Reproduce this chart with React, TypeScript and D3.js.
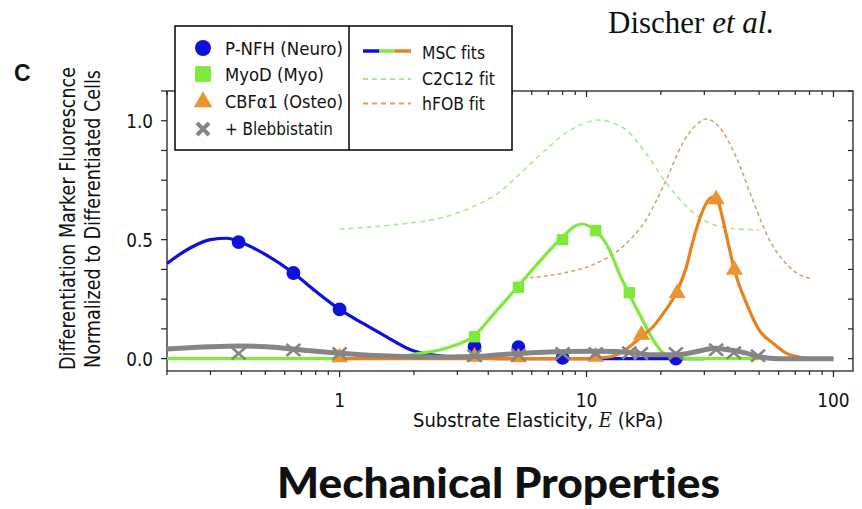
import React from 'react';
import * as d3 from 'd3';

type P = [number, number];

// ---- data (E in kPa, normalized fluorescence) ----
const neuroFit: P[] = [
  [0.2, 0.40], [0.247, 0.464], [0.3, 0.50], [0.35, 0.506], [0.4, 0.488], [0.5, 0.438],
  [0.65, 0.36], [0.8, 0.283], [1.0, 0.207], [1.24, 0.149], [1.5, 0.10], [2.0, 0.032],
  [2.8, 0.008], [3.5, 0.002], [4.5, 0], [30, 0],
];
const myoFit: P[] = [
  [0.2, 0], [1.0, 0], [1.5, 0.002], [1.75, 0.008], [2.04, 0.02], [2.54, 0.036], [2.97, 0.058],
  [3.47, 0.092], [4.18, 0.184], [5.27, 0.303], [6.45, 0.408], [7.9, 0.506], [9.08, 0.56],
  [9.6, 0.566], [10.3, 0.556], [10.9, 0.538], [12.4, 0.457], [13.6, 0.355], [14.9, 0.27], [16.6, 0.176],
  [18.6, 0.079], [21, 0.015], [24, 0.002], [28, 0], [50, 0],
];
const osteoFit: P[] = [
  [0.95, 0], [10, 0], [12.5, 0.008], [14.5, 0.04], [16.4, 0.086], [18.6, 0.134], [20.3, 0.185],
  [23.3, 0.285], [25.4, 0.387], [26.9, 0.49], [29.5, 0.62], [31.5, 0.672], [33, 0.68], [34.1, 0.66],
  [36.7, 0.527], [39.7, 0.373], [44.4, 0.233], [50, 0.12], [56.9, 0.065], [64.3, 0.023],
  [73.1, 0.006], [82, 0], [100, 0],
];
const blebFit: P[] = [
  [0.2, 0.04], [0.3, 0.05], [0.39, 0.053], [0.5, 0.05], [0.65, 0.04], [0.8, 0.031], [1.0, 0.023],
  [1.4, 0.013], [2.0, 0.008], [2.8, 0.007], [3.5, 0.009], [4.44, 0.016], [6, 0.025], [8.3, 0.03],
  [11, 0.031], [13.2, 0.03], [16, 0.022], [18, 0.016], [23, 0.016], [28, 0.03], [33, 0.044],
  [38, 0.036], [44.4, 0.023], [50, 0.008], [55, 0.002], [60, 0], [100, 0],
];
const c2c12Fit: P[] = [
  [1.0, 0.544], [1.5, 0.558], [2.0, 0.572], [2.54, 0.59], [3.47, 0.639], [4.44, 0.70], [5.04, 0.75],
  [6.06, 0.828], [6.87, 0.88], [8, 0.94], [9.36, 0.98], [11.3, 1.003], [12.8, 0.99], [14.5, 0.961],
  [17.4, 0.863], [21.1, 0.737], [25.4, 0.639], [30.6, 0.576], [38, 0.548], [50, 0.541],
];
const hfobFit: P[] = [
  [5.52, 0.338], [8, 0.359], [10.9, 0.40], [14, 0.47], [17.4, 0.583], [21, 0.75], [24.5, 0.905],
  [27.8, 0.982], [30.6, 1.007], [34.4, 0.975], [40.3, 0.849], [47.1, 0.667], [55, 0.499],
  [64.3, 0.40], [73, 0.352], [80, 0.338],
];
const neuroPts: P[] = [[0.39, 0.49], [0.65, 0.36], [1.0, 0.207], [3.52, 0.05], [5.3, 0.048], [8.0, 0.003], [23, 0.0]];
const myoPts: P[] = [[3.52, 0.092], [5.3, 0.30], [8.0, 0.50], [10.9, 0.538], [14.9, 0.277]];
const osteoPts: P[] = [[1.0, 0.005], [3.52, 0.008], [5.3, 0.005], [10.9, 0.008], [16.7, 0.1], [23.3, 0.275], [33.5, 0.67], [39.7, 0.373]];
const blebPts: P[] = [
  [0.39, 0.022], [0.65, 0.036], [1.0, 0.022], [3.52, 0.012], [5.3, 0.015], [8.0, 0.022], [10.9, 0.022],
  [14.9, 0.025], [16.6, 0.022], [23, 0.022], [33.5, 0.037], [39.5, 0.025], [49.5, 0.012],
];

const xMajor = [1, 10, 100];
const xMajorLabels = ['1', '10', '100'];
const yLabelValues = [0, 0.5, 1.0];
const yLabels = ['0.0', '0.5', '1.0'];
const yTickValues = d3.range(0, 1.126, 0.125);

const leftLegend = ['P-NFH (Neuro)', 'MyoD (Myo)', 'CBF\u03b11 (Osteo)', '+ Blebbistatin'];
const rightLegend = ['MSC fits', 'C2C12 fit', 'hFOB fit'];

// ---- styles ----
const BLUE = '#1010dc';
const GREEN = '#7fea3c';
const ORANGE = '#e8821e';
const ORANGE_M = '#ea9330';
const GRAY = '#858585';
const DGREEN = '#a8ea8c';
const DORANGE = '#d8a064';
const SANS = "'DejaVu Sans', Verdana, sans-serif";

const x = d3.scaleLog().domain([0.2, 120]).range([167, 853]);
const y = d3.scaleLinear().domain([-0.052, 1.125]).range([371, 91]);
const line = d3.line<P>().x(d => x(d[0])).y(d => y(d[1])).curve(d3.curveMonotoneX);

const circle = d3.symbol().type(d3.symbolCircle).size(150)();
const square = d3.symbol().type(d3.symbolSquare).size(130)();
const tri = d3.symbol().type(d3.symbolTriangle).size(125)();
const circleL = d3.symbol().type(d3.symbolCircle).size(200)();
const squareL = d3.symbol().type(d3.symbolSquare).size(250)();
const triL = d3.symbol().type(d3.symbolTriangle).size(150)();

function Cross({ cx, cy, w, h, sw }: { cx: number; cy: number; w: number; h: number; sw: number }) {
  return (
    <path d={`M${cx - w},${cy - h}L${cx + w},${cy + h}M${cx - w},${cy + h}L${cx + w},${cy - h}`}
      stroke={GRAY} strokeWidth={sw} fill="none" />
  );
}

function T(props: any) {
  const { x: tx, y: ty, size, sx = 1, rot = 0, anchor = 'start', family = SANS, weight = 'normal', len, children } = props;
  return (
    <text transform={`translate(${tx},${ty}) rotate(${rot}) scale(${sx},1)`} fontSize={size} fontFamily={family}
      fontWeight={weight} textAnchor={anchor} fill="#111"
      style={{ fontVariantLigatures: 'none', fontFeatureSettings: '"liga" 0, "clig" 0' }}
      {...(len ? { textLength: len, lengthAdjust: 'spacingAndGlyphs' } : {})}>
      {children}
    </text>
  );
}

export default function App() {
  const xt = x.ticks();
  return (
    <svg width={862} height={509} style={{ position: 'absolute', left: 0, top: 0, background: '#fff' }}>
      <rect width={862} height={509} fill="#fff" />

      {/* dashed reference fits */}
      <path d={line(c2c12Fit)!} fill="none" stroke={DGREEN} strokeWidth={1.6} strokeDasharray="5,4" />
      <path d={line(hfobFit)!} fill="none" stroke={DORANGE} strokeWidth={1.5} strokeDasharray="4,3" />

      {/* frame */}
      <rect x={167} y={91} width={686} height={280} fill="none" stroke="#222" strokeWidth={1.3} />
      {yTickValues.map((v, i) => (
        <g key={'yt' + i}>
          <line x1={161} x2={167} y1={y(v)} y2={y(v)} stroke="#222" strokeWidth={1.2} />
          <line x1={853} x2={848} y1={y(v)} y2={y(v)} stroke="#222" strokeWidth={1.2} />
        </g>
      ))}
      {xt.map((t, i) => {
        const major = xMajor.includes(t);
        return (
          <g key={'xt' + i}>
            <line x1={x(t)} x2={x(t)} y1={371} y2={major ? 377 : 375} stroke="#222" strokeWidth={1.2} />
            <line x1={x(t)} x2={x(t)} y1={91} y2={major ? 97 : 95} stroke="#222" strokeWidth={1.2} />
          </g>
        );
      })}

      {/* MSC fits */}
      <path d={line(neuroFit)!} fill="none" stroke={BLUE} strokeWidth={3.2} />
      <path d={line(myoFit)!} fill="none" stroke={GREEN} strokeWidth={3.2} />
      <path d={line(osteoFit)!} fill="none" stroke={ORANGE} strokeWidth={3.2} />

      {/* markers */}
      {neuroPts.map((d, i) => <path key={'n' + i} d={circle!} transform={`translate(${x(d[0])},${y(d[1])})`} fill={BLUE} />)}
      {myoPts.map((d, i) => <path key={'m' + i} d={square!} transform={`translate(${x(d[0])},${y(d[1])})`} fill={GREEN} />)}
      {osteoPts.map((d, i) => <path key={'o' + i} d={tri!} transform={`translate(${x(d[0])},${y(d[1])})`} fill={ORANGE_M} />)}

      {/* blebbistatin */}
      <path d={line(blebFit)!} fill="none" stroke={GRAY} strokeWidth={5} />
      {blebPts.map((d, i) => <Cross key={'b' + i} cx={x(d[0])} cy={y(d[1])} w={7} h={6} sw={2.6} />)}

      {/* legend */}
      <rect x={175} y={26} width={337} height={124} fill="#fff" stroke="#111" strokeWidth={1.6} />
      <line x1={349} x2={349} y1={26} y2={150} stroke="#111" strokeWidth={1.6} />
      <path d={circleL!} transform="translate(203,48)" fill={BLUE} />
      <path d={squareL!} transform="translate(203,74)" fill={GREEN} />
      <path d={triL!} transform="translate(203,102)" fill={ORANGE_M} />
      <Cross cx={203} cy={129} w={6} h={6} sw={4} />
      {leftLegend.map((s, i) => (
        <T key={'ll' + i} x={225} y={[55, 80.5, 108, 135][i]} size={18}
          len={[118, 99, 118, 108][i]}>{s}</T>
      ))}
      <line x1={363} x2={379} y1={51} y2={51} stroke={BLUE} strokeWidth={3.5} />
      <line x1={379} x2={395} y1={51} y2={51} stroke={GREEN} strokeWidth={3.5} />
      <line x1={395} x2={411} y1={51} y2={51} stroke={ORANGE} strokeWidth={3.5} />
      <line x1={363} x2={411} y1={79} y2={79} stroke={DGREEN} strokeWidth={2} strokeDasharray="5,4" />
      <line x1={363} x2={411} y1={103.5} y2={103.5} stroke={DORANGE} strokeWidth={2} strokeDasharray="5,4" />
      {rightLegend.map((s, i) => (
        <T key={'rl' + i} x={422} y={[58.5, 85, 110][i]} size={18} len={[63, 73, 63][i]}>{s}</T>
      ))}

      {/* tick labels */}
      {yLabelValues.map((v, i) => (
        <T key={'yl' + i} x={153} y={y(v) + 7.3} size={20} sx={0.84} anchor="end">{yLabels[i]}</T>
      ))}
      {xMajor.map((t, i) => (
        <T key={'xl' + i} x={x(t)} y={407} size={20} sx={0.85} anchor="middle">{xMajorLabels[i]}</T>
      ))}

      {/* axis titles */}
      <T x={413} y={427} size={20} sx={0.9}>
        Substrate Elasticity, <tspan fontFamily="'DejaVu Serif', serif" fontStyle="italic">E</tspan> (kPa)
      </T>
      <T x={74.5} y={370} size={20.5} rot={-90} len={303}>Differentiation Marker Fluorescnce</T>
      <T x={100} y={368} size={20.5} rot={-90} len={298}>Normalized to Differentiated Cells</T>

      {/* panel letter, attribution, title */}
      <T x={14} y={81} size={23} family="'Liberation Sans', Arial, sans-serif" weight="bold">C</T>
      <T x={608} y={33} size={31} family="'Liberation Serif', 'Times New Roman', serif">
        Discher <tspan fontStyle="italic">et al.</tspan>
      </T>
      <T x={277} y={498} size={42} family="Lato, 'Open Sans', sans-serif" weight={900} len={443}>Mechanical Properties</T>
    </svg>
  );
}
